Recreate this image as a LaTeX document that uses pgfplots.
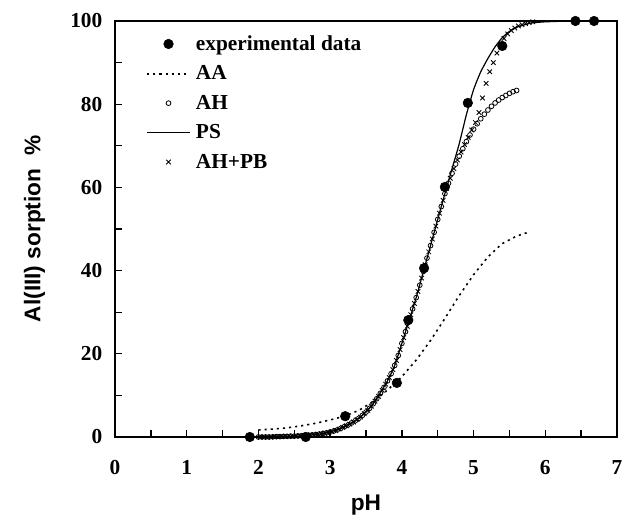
\documentclass[border=0pt]{standalone}
\usepackage{fontspec}
\setmainfont{Liberation Serif}
\newfontfamily\arialfont{Liberation Sans}
\usepackage{pgfplots}
\usepackage{pgfplotstable}
\pgfplotsset{compat=1.18}
\pgfplotsset{
  linelegend/.style={legend image code/.code={\draw[##1] (0pt,0pt) -- (32pt,0pt);}},
  marklegend/.style={legend image code/.code={\draw[##1] plot coordinates {(16pt,0pt)};}},
}

\pgfplotstableread{
x y
1.88 0
2.66 0
3.21 5.0
3.93 13.0
4.09 28.1
4.31 40.6
4.60 60.1
4.92 80.3
5.40 94.0
6.42 100
6.68 100
}\expdata

\pgfplotstableread{
x y
2.00 1.7
2.20 1.9
2.40 2.2
2.60 2.7
2.80 3.3
3.00 4.1
3.20 5.0
3.40 6.4
3.60 8.5
3.80 11.3
4.00 14.5
4.20 18.5
4.40 23.2
4.60 28.5
4.80 34.0
5.00 39.0
5.20 43.3
5.40 46.5
5.60 48.3
5.76 49.2
}\aadata

\pgfplotstableread{
x y
2.00 0.0
2.05 0.0
2.10 0.0
2.15 0.0
2.20 0.05
2.25 0.1
2.30 0.1
2.35 0.15
2.40 0.15
2.45 0.2
2.50 0.2
2.55 0.25
2.60 0.3
2.65 0.4
2.70 0.45
2.75 0.5
2.80 0.6
2.85 0.7
2.90 0.85
2.95 1.0
3.00 1.2
3.05 1.45
3.10 1.7
3.15 2.1
3.20 2.5
3.25 2.9
3.30 3.4
3.35 3.9
3.40 4.5
3.45 5.2
3.50 6.0
3.55 6.9
3.60 8.0
3.65 9.2
3.70 10.5
3.75 11.9
3.80 13.5
3.85 15.2
3.90 17.2
3.95 19.6
4.00 22.5
4.05 25.3
4.10 28.0
4.15 30.8
4.20 33.5
4.25 36.5
4.30 39.8
4.35 43.0
4.40 46.0
4.45 49.2
4.50 52.3
4.55 55.4
4.60 58.5
4.65 61.0
4.70 63.4
4.75 65.6
4.80 67.5
4.85 69.3
4.90 71.0
4.95 72.6
5.00 74.0
5.05 75.3
5.10 76.5
5.15 77.6
5.20 78.6
5.25 79.5
5.30 80.3
5.35 81.0
5.40 81.6
5.45 82.1
5.50 82.6
5.55 83.0
5.60 83.3
}\ahdata

\pgfplotstableread{
x y
2.0 0.0
2.2 0.05
2.4 0.15
2.6 0.3
2.8 0.6
3.0 1.2
3.2 2.5
3.4 4.5
3.6 8.0
3.8 13.5
3.9 17.2
4.0 22.5
4.1 28.0
4.2 33.5
4.3 39.8
4.4 46.0
4.5 52.3
4.6 58.5
4.7 64.5
4.8 70.5
4.9 77.5
5.0 83.5
5.1 87.8
5.2 91.0
5.3 93.8
5.4 96.0
5.5 97.5
5.6 98.5
5.8 99.5
6.0 99.8
6.35 100
}\psdata

\pgfplotstableread{
x y
2.025 0.0
2.075 0.0
2.125 0.0
2.175 0.0
2.225 0.05
2.275 0.1
2.325 0.1
2.375 0.15
2.425 0.2
2.475 0.2
2.525 0.25
2.575 0.3
2.625 0.35
2.675 0.4
2.725 0.5
2.775 0.55
2.825 0.65
2.875 0.8
2.925 0.95
2.975 1.1
3.025 1.3
3.075 1.6
3.125 1.9
3.175 2.3
3.225 2.7
3.275 3.1
3.325 3.6
3.375 4.2
3.425 4.8
3.475 5.6
3.525 6.4
3.575 7.4
3.625 8.6
3.675 9.8
3.725 11.2
3.775 12.7
3.825 14.3
3.875 16.2
3.925 18.4
3.975 21.0
4.025 23.9
4.075 26.6
4.125 29.4
4.175 32.1
4.225 35.0
4.275 38.2
4.325 41.4
4.375 44.5
4.425 47.6
4.475 50.7
4.525 53.8
4.575 56.9
4.625 59.8
4.675 62.2
4.725 64.5
4.775 66.6
4.825 68.5
4.875 70.3
4.925 72.0
4.975 73.8
5.025 75.6
5.075 78.0
5.125 81.5
5.175 85.0
5.225 87.8
5.275 90.0
5.325 92.3
5.375 94.3
5.425 95.8
5.475 96.9
5.525 97.7
5.575 98.3
5.625 98.8
5.675 99.1
5.725 99.4
5.775 99.6
5.825 99.8
}\ahpbdata

\begin{document}
\begin{tikzpicture}
\begin{axis}[
    name=main,
    scale only axis,
    width=376.5pt, height=312pt,
    xmin=0, xmax=7, ymin=0, ymax=100,
    xtick={0,1,...,7}, ytick={0,20,...,100},
    minor x tick num=1, minor y tick num=1,
    tick align=inside,
    xtick pos=bottom, ytick pos=left,
    major tick length=5.5pt, minor tick length=5.5pt,
    axis line style={line width=1.5pt, black},
    every tick/.style={line width=1pt, black},
    /pgf/number format/assume math mode=true,
    ticklabel style={font=\fontsize{16}{18}\selectfont\bfseries},
    xticklabel style={yshift=-14pt},
    yticklabel style={xshift=-6pt},
    xlabel={\arialfont\bfseries pH},
    ylabel={\arialfont\bfseries Al(III) sorption~~\%},
    label style={font=\fontsize{17}{20}\selectfont},
    xlabel style={yshift=-8pt},
    ylabel style={yshift=12pt},
    clip=false,
    legend cell align=left,
    legend style={at={(0.062,0.972)}, anchor=north west, draw=none, fill=none,
        font=\fontsize{16}{18}\selectfont\bfseries, row sep=6pt,
        inner sep=0pt, nodes={inner xsep=4pt}},
]
\addplot[only marks, mark=*, mark size=3.6pt, black, marklegend]
    table {\expdata};
\addlegendentry{experimental data}
\addplot[black, line width=1.2pt, dash pattern=on 1.6pt off 3pt, linelegend]
    table {\aadata};
\addlegendentry{AA}
\addplot[only marks, mark=o, mark size=1.8pt, black, mark options={line width=0.6pt}, marklegend]
    table {\ahdata};
\addlegendentry{AH}
\addplot[black, line width=0.9pt, smooth, tension=0.3, linelegend]
    table {\psdata};
\addlegendentry{PS}
\addplot[only marks, mark=x, mark size=2.4pt, black, mark options={line width=0.65pt}, marklegend]
    table {\ahpbdata};
\addlegendentry{AH+PB}
\end{axis}
\draw[line width=1.6pt, black] (main.south west) -- (main.north west) -- (main.north east) -- (main.south east);
\pgfresetboundingbox
\path ([shift={(-86.25pt,-65.25pt)}]main.south west) rectangle ([shift={(5.25pt,15.75pt)}]main.north east);
\end{tikzpicture}
\end{document}
